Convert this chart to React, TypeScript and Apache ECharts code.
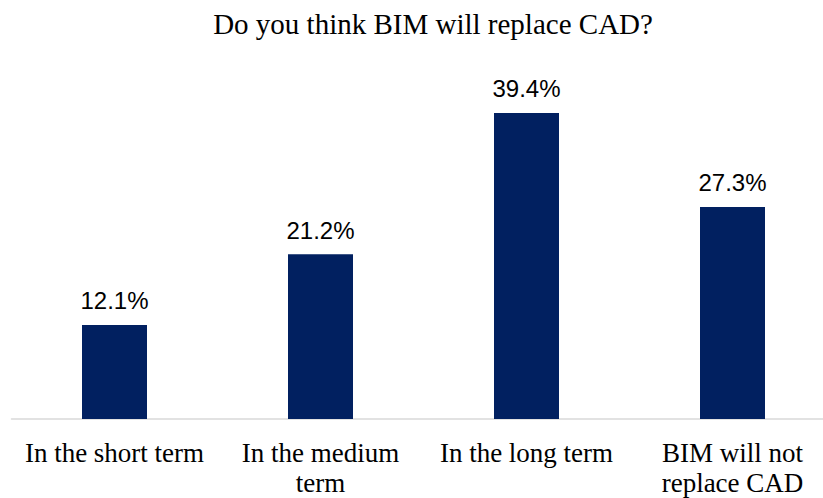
import React, { useEffect, useRef } from "react";
import * as echarts from "echarts";

const title = "Do you think BIM will replace CAD?";
const categories = ["In the short term", "In the medium term", "In the long term", "BIM will not replace CAD"];
const categoryLabels = ["In the short term", "In the medium\nterm", "In the long term", "BIM will not\nreplace CAD"];
const values = [12.1, 21.2, 39.4, 27.3];

export default function App() {
  const ref = useRef<HTMLDivElement>(null);
  useEffect(() => {
    if (!ref.current) return;
    const chart = echarts.init(ref.current, null, { renderer: "svg" });
    chart.setOption({
      animation: false,
      backgroundColor: "#ffffff",
      title: {
        text: title,
        left: 428,
        top: 4,
        textAlign: "center",
        textStyle: {
          fontFamily: "Liberation Serif",
          fontSize: 29,
          fontWeight: "normal",
          color: "#000000",
        },
      },
      grid: { left: 11.5, width: 824, top: 69.4, bottom: 78, containLabel: false },
      xAxis: {
        type: "category",
        data: categories,
        axisLine: { show: true, lineStyle: { color: "#d9d9d9", width: 1.5 } },
        axisTick: { show: false },
        axisLabel: {
          interval: 0,
          margin: 19,
          formatter: (_v: string, i: number) => categoryLabels[i],
          fontFamily: "Liberation Serif",
          fontSize: 27,
          lineHeight: 30,
          color: "#000000",
        },
      },
      yAxis: {
        type: "value",
        min: 0,
        max: 45,
        show: false,
        splitLine: { show: false },
      },
      series: [
        {
          type: "bar",
          data: values,
          barWidth: 65,
          itemStyle: { color: "#012060" },
          label: {
            show: true,
            position: "top",
            distance: 12,
            formatter: (p: any) => p.value.toFixed(1) + "%",
            fontFamily: "Liberation Sans",
            fontSize: 24,
            color: "#000000",
          },
        },
      ],
    });
    return () => chart.dispose();
  }, []);
  return (
    <div style={{ position: "fixed", left: 0, top: 0, width: 823, height: 498, overflow: "hidden", background: "#fff" }}>
      <div ref={ref} style={{ width: 840, height: 498 }} />
    </div>
  );
}
